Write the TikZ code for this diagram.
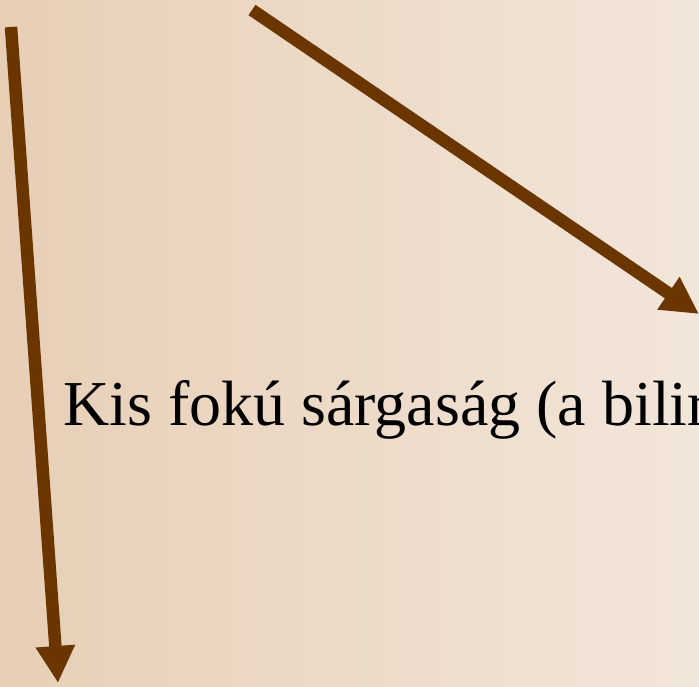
\documentclass[tikz,border=0pt]{standalone}
\usepackage{fontspec}
\setmainfont{Liberation Serif}
\usetikzlibrary{arrows.meta}
\definecolor{arrowbrown}{RGB}{107,53,0}
\definecolor{bgleft}{RGB}{231,207,182}
\definecolor{bgright}{RGB}{242,230,218}
\tikzset{
  brownarrow/.style={draw=arrowbrown, line width=12.5pt, line cap=butt,
    -{Triangle[length=37pt, width=37pt]}},
  bigtext/.style={anchor=base west, inner sep=0pt, font=\fontsize{64}{77}\selectfont, text=black}
}
\begin{document}
\begin{tikzpicture}[x=1pt, y=-1pt]
\path[use as bounding box, clip] (0,0) rectangle (699,687);
\shade[left color=bgleft, right color=bgright] (0,0) rectangle (699,687);
\coordinate (l1) at (11,27);
\coordinate (l2) at (58,683);
\coordinate (r1) at (252,10);
\coordinate (r2) at (699,314);
\draw[brownarrow] (l1) -- (l2);
\draw[brownarrow] (r1) -- (r2);
\node[bigtext] (t) at (63,425) {Kis fokú sárgaság (a bilir};
\end{tikzpicture}
\end{document}
